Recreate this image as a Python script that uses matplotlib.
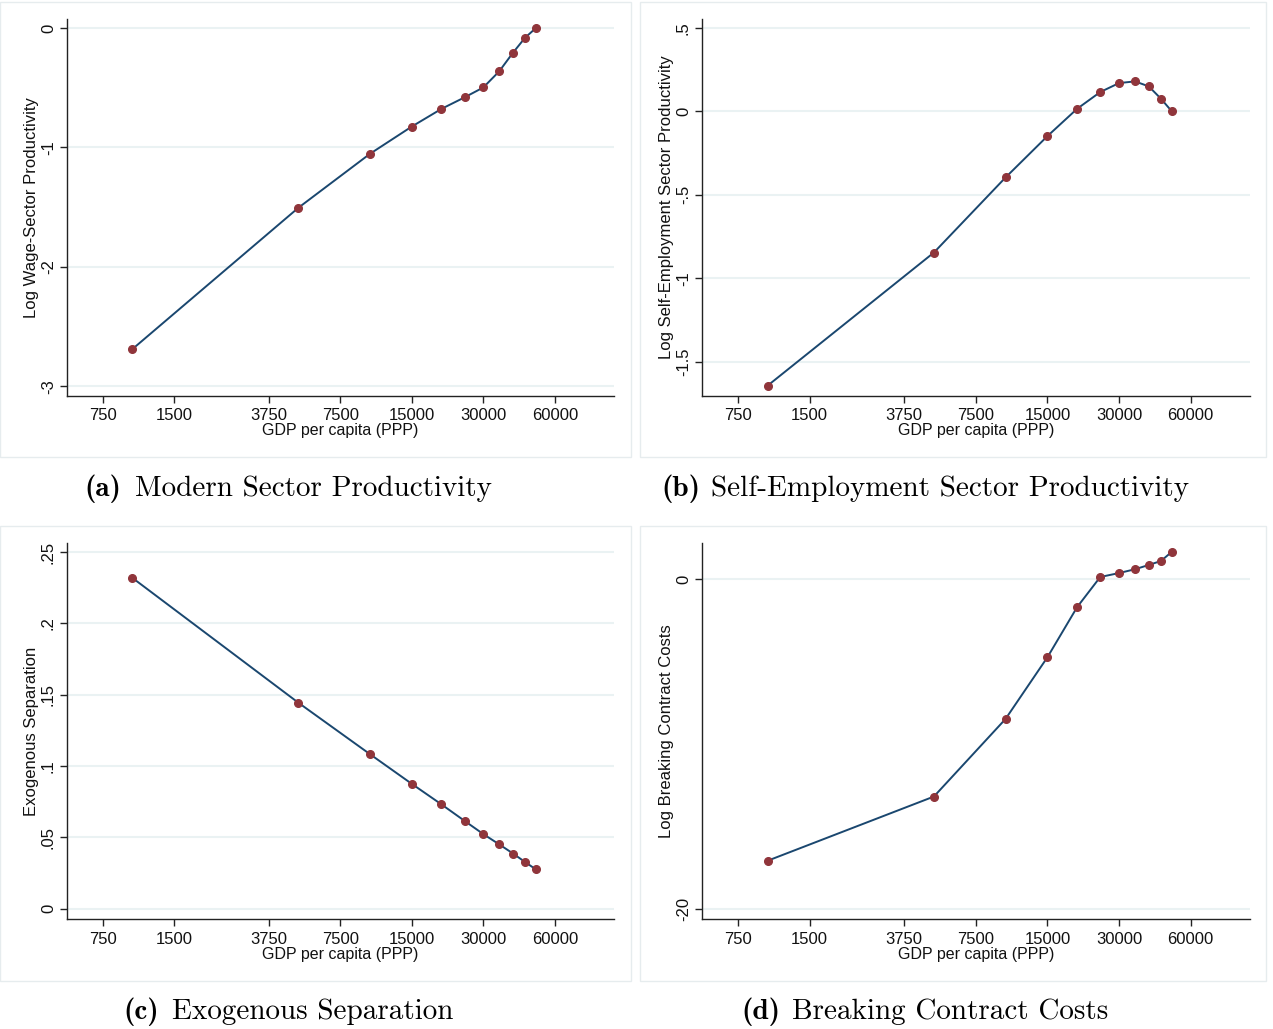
import matplotlib
matplotlib.use('Agg')
import matplotlib.pyplot as plt
import matplotlib.patches as mpatches

# GDP per capita (PPP) grid
gdp = [1000, 5000, 10000, 15000, 20000, 25000, 30000, 35000, 40000, 45000, 50000]

modern_prod = [-2.687, -1.504, -1.053, -0.825, -0.677, -0.581, -0.498, -0.363, -0.207, -0.081, 0.0]
self_emp_prod = [-1.644, -0.846, -0.396, -0.148, 0.016, 0.116, 0.170, 0.180, 0.150, 0.076, 0.0]
exo_sep = [0.2318, 0.1443, 0.1083, 0.0875, 0.0731, 0.0616, 0.0523, 0.0451, 0.0387, 0.0327, 0.0275]
break_costs = [-17.07, -13.18, -8.48, -4.74, -1.70, 0.12, 0.36, 0.59, 0.85, 1.09, 1.65]

xticks = [750, 1500, 3750, 7500, 15000, 30000, 60000]
xtick_labels = ['750', '1500', '3750', '7500', '15000', '30000', '60000']

W, H = 1273, 1029
fig = plt.figure(figsize=(W / 100, H / 100), dpi=100)
fig.patch.set_facecolor('white')

navy = '#1a476f'
maroon = '#90353b'
grid_col = '#eaf2f3'
tick_font = 'Liberation Sans'


def px_axes(left, right, top, bottom):
    return fig.add_axes([left / W, 1 - bottom / H, (right - left) / W, (bottom - top) / H])


def panel(ax, y, ylabel, yticks, ylabels, ylim):
    ax.plot(gdp, y, color=navy, lw=1.4, marker='o', ms=5.5,
            mfc=maroon, mec=maroon, zorder=3)
    ax.set_xscale('log')
    ax.set_xlim(530, 106500)
    ax.set_ylim(*ylim)
    ax.minorticks_off()
    ax.set_xticks(xticks)
    ax.set_xticklabels(xtick_labels, fontfamily=tick_font, fontsize=12)
    ax.set_yticks(yticks)
    ax.set_yticklabels(ylabels, fontfamily=tick_font, fontsize=12,
                       rotation=90, va='center')
    for t in yticks:
        ax.axhline(t, color=grid_col, lw=1.5, zorder=1)
    ax.spines['top'].set_visible(False)
    ax.spines['right'].set_visible(False)
    for s in ['left', 'bottom']:
        ax.spines[s].set_color('#222222')
        ax.spines[s].set_linewidth(1.0)
    ax.tick_params(axis='both', direction='out', length=5, width=1,
                   color='#222222', labelcolor='#111111')
    ax.tick_params(axis='x', pad=4)
    ax.tick_params(axis='y', pad=3)
    ax.set_xlabel('GDP per capita (PPP)', fontfamily=tick_font, fontsize=11.5,
                  labelpad=0, color='#111111')
    ax.set_ylabel(ylabel, fontfamily=tick_font, fontsize=12,
                  labelpad=1, color='#111111')


ax_a = px_axes(67, 614, 19, 396)
panel(ax_a, modern_prod, 'Log Wage-Sector Productivity',
      [0, -1, -2, -3], ['0', '-1', '-2', '-3'], (-3.08, 0.075))

ax_b = px_axes(702, 1250, 19, 396)
panel(ax_b, self_emp_prod, 'Log Self-Employment Sector Productivity',
      [0.5, 0, -0.5, -1, -1.5], ['.5', '0', '-.5', '-1', '-1.5'], (-1.706, 0.554))

ax_c = px_axes(67, 614, 543, 919)
panel(ax_c, exo_sep, 'Exogenous Separation',
      [0, 0.05, 0.1, 0.15, 0.2, 0.25], ['0', '.05', '.1', '.15', '.2', '.25'],
      (-0.0072, 0.2563))

ax_d = px_axes(702, 1250, 543, 919)
panel(ax_d, break_costs, 'Log Breaking Contract Costs',
      [0, -20], ['0', '-20'], (-20.6, 2.18))

# faint graph-region borders
for (l, r, t, b) in [(0, 631, 2, 457), (640, 1266, 2, 457),
                     (0, 631, 526, 981), (640, 1266, 526, 981)]:
    fig.add_artist(mpatches.Rectangle((l / W, 1 - b / H), (r - l) / W, (b - t) / H,
                                      transform=fig.transFigure, fill=False,
                                      ec='#e6ecee', lw=1.0))

# captions
captions = [('(a)', 'Modern Sector Productivity', 121, 135, 496),
            ('(b)', 'Self-Employment Sector Productivity', 700, 711, 496),
            ('(c)', 'Exogenous Separation', 159, 172, 1019),
            ('(d)', 'Breaking Contract Costs', 780, 792, 1019)]
for lab, txt, xr, xl, yb in captions:
    fig.text(xr / W, 1 - yb / H, lab, fontfamily='cmb10', fontsize=21,
             ha='right', va='baseline')
    fig.text(xl / W, 1 - yb / H, txt, fontfamily='cmr10', fontsize=21,
             ha='left', va='baseline')

fig.savefig('out.png', dpi=100)
